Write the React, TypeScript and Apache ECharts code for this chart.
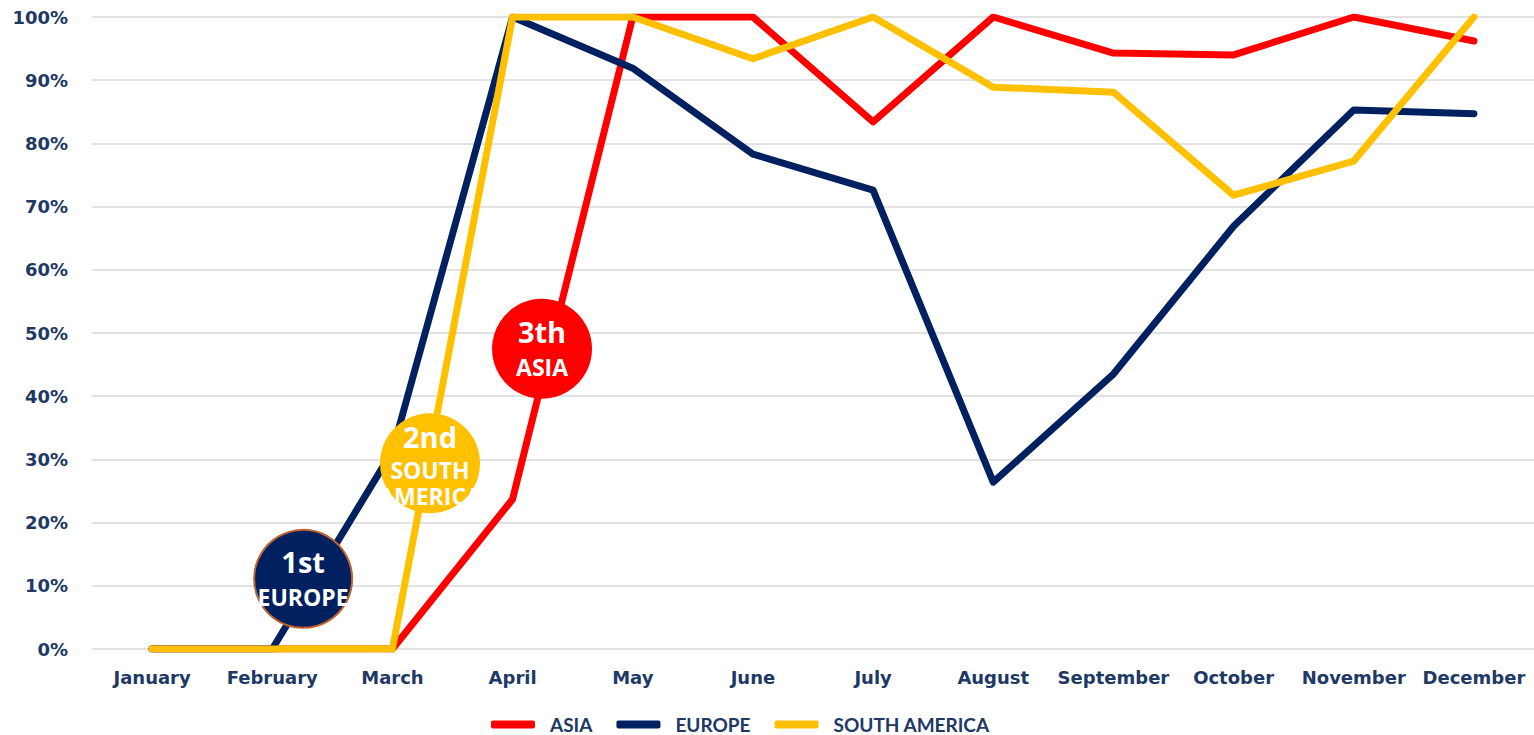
import React, { useEffect, useRef } from "react";
import * as echarts from "echarts";

const months = ["January", "February", "March", "April", "May", "June", "July", "August", "September", "October", "November", "December"];
const asia = [0, 0, 0, 23.7, 100, 100, 83.4, 100, 94.3, 94.0, 100, 96.2];
const europe = [0, 0, 31.3, 100, 91.9, 78.3, 72.6, 26.4, 43.5, 66.9, 85.3, 84.7];
const southAmerica = [0, 0, 0, 100, 100, 93.4, 100, 88.9, 88.1, 71.8, 77.2, 100];

const seriesNames = ["ASIA", "EUROPE", "SOUTH AMERICA"];
const seriesColors = ["#FF0000", "#002060", "#FFC000"];

// annotation badges: rank label, region label, position (fractional month index, value %)
const badgeRanks = ["1st", "2nd", "3th"];
const badgeRegions = ["EUROPE", "SOUTH\nAMERICA", "ASIA"];
const badgeIndex = [1.257, 2.313, 3.245];
const badgeValue = [11.1, 29.4, 47.5];
const badgeFill = ["#002060", "#FFC000", "#FF0000"];
const badgeBorder = ["#C0622E", "#FFC000", "#FF0000"];

const navyText = "#203864";

export default function App() {
  const ref = useRef<HTMLDivElement>(null);
  useEffect(() => {
    if (!ref.current) return;
    const chart = echarts.init(ref.current, null, { renderer: "svg" });
    const data = [asia, europe, southAmerica];
    chart.setOption({
      animation: false,
      backgroundColor: "#ffffff",
      grid: { left: 92, right: 0, top: 17, bottom: 86, containLabel: false },
      legend: {
        left: 486,
        top: 710,
        itemWidth: 44,
        itemHeight: 8,
        itemGap: 24,
        icon: "roundRect",
        data: seriesNames,
        textStyle: {
          color: navyText,
          fontFamily: "Lato",
          fontWeight: "bold",
          fontSize: 19,
          lineHeight: 19,
          padding: [0, 0, 0, 10],
        },
      },
      xAxis: {
        type: "category",
        data: months,
        boundaryGap: true,
        axisLine: { show: false },
        axisTick: { show: false },
        axisLabel: {
          margin: 19,
          color: navyText,
          fontFamily: "DejaVu Sans",
          fontWeight: "bold",
          fontSize: 18,
          interval: 0,
        },
      },
      yAxis: {
        type: "value",
        min: 0,
        max: 100,
        interval: 10,
        axisLine: { show: false },
        axisTick: { show: false },
        splitLine: { lineStyle: { color: "#D9D9D9", width: 1.5 } },
        axisLabel: {
          margin: 24,
          formatter: "{value}%",
          color: navyText,
          fontFamily: "DejaVu Sans",
          fontWeight: "bold",
          fontSize: 18,
        },
      },
      series: seriesNames.map((name, i) => ({
        name,
        type: "line",
        data: data[i],
        symbol: "none",
        color: seriesColors[i],
        lineStyle: { width: 7, color: seriesColors[i], cap: "round", join: "round" },
        z: 2 + i,
      })),
    });

    const px = (idx: number, val: number) => {
      const i0 = Math.floor(idx);
      const f = idx - i0;
      const a = chart.convertToPixel({ gridIndex: 0 }, [i0, val]) as number[];
      const b = chart.convertToPixel({ gridIndex: 0 }, [i0 + 1, val]) as number[];
      return [a[0] + (b[0] - a[0]) * f, a[1]];
    };

    const elements: any[] = [];
    badgeRanks.forEach((rank, k) => {
      const [cx, cy] = px(badgeIndex[k], badgeValue[k]);
      const multi = badgeRegions[k].indexOf("\n") >= 0;
      elements.push({
        type: "circle",
        z: 100,
        shape: { cx, cy, r: 49 },
        style: { fill: badgeFill[k], stroke: badgeBorder[k], lineWidth: 2 },
      });
      elements.push({
        type: "text",
        z: 101,
        x: cx,
        y: cy + (multi ? -27 : -17),
        style: {
          text: rank,
          fill: "#ffffff",
          font: "bold 29px 'Open Sans'",
          textAlign: "center",
          textVerticalAlign: "middle",
        },
      });
      elements.push({
        type: "text",
        z: 101,
        x: cx,
        y: cy + (multi ? 20 : 18),
        style: {
          text: badgeRegions[k],
          fill: "#ffffff",
          font: "bold 23px 'Open Sans'",
          lineHeight: 26,
          textAlign: "center",
          textVerticalAlign: "middle",
        },
      });
    });
    chart.setOption({ graphic: elements });

    return () => chart.dispose();
  }, []);
  return (
    <div
      ref={ref}
      style={{ position: "absolute", left: 0, top: 0, width: 1534, height: 735 }}
    />
  );
}
